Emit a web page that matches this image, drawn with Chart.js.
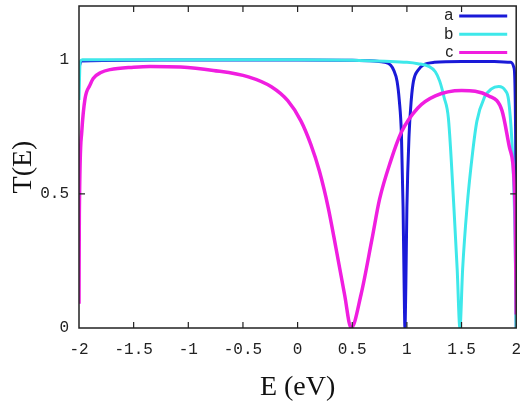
<!DOCTYPE html>
<html>
<head>
<meta charset="utf-8">
<script src="https://cdn.jsdelivr.net/npm/chart.js@4"></script>
<style>
  body { margin: 0; background: #fff; }
</style>
</head>
<body>
<canvas id="chart" width="525" height="406"></canvas>
<script>
// energy grid (eV) and transmission for each curve
const eA = [-2, -1.98, -1.5, -1, 0, 0.5, 0.7, 0.8, 0.85, 0.88, 0.91, 0.93, 0.95, 0.965, 0.975, 0.982, 0.99, 1.0, 1.02, 1.04, 1.06, 1.1, 1.15, 1.25, 1.5, 1.8, 1.95, 1.98, 1.995, 2];
const tA = [0.97, 0.995, 0.998, 0.999, 0.999, 0.998, 0.995, 0.99, 0.98, 0.96, 0.92, 0.85, 0.72, 0.45, 0.15, 0.0, 0.15, 0.45, 0.72, 0.85, 0.92, 0.96, 0.98, 0.99, 0.993, 0.993, 0.99, 0.97, 0.7, 0];

const eB = [-2, -1.99, -1.97, -1, 0, 0.5, 0.8, 1.0, 1.1, 1.2, 1.26, 1.3, 1.34, 1.38, 1.43, 1.46, 1.485, 1.51, 1.55, 1.6, 1.64, 1.71, 1.77, 1.84, 1.9, 1.93, 1.96, 1.98, 1.99, 2];
const tB = [0.85, 0.99, 1.0, 1.0, 1.0, 0.998, 0.994, 0.99, 0.985, 0.975, 0.955, 0.92, 0.86, 0.78, 0.45, 0.22, 0.0, 0.22, 0.45, 0.65, 0.77, 0.86, 0.89, 0.9, 0.885, 0.85, 0.7, 0.5, 0.33, 0];

const eC = [-2, -1.997, -1.975, -1.945, -1.9, -1.87, -1.8, -1.715, -1.5, -1.35, -1.07, -0.77, -0.45, -0.24, -0.09, 0.03, 0.12, 0.2, 0.28, 0.35, 0.43, 0.49, 0.58, 0.68, 0.75, 0.85, 0.95, 1.1, 1.26, 1.5, 1.75, 1.87, 1.94, 1.99, 2];
const tC = [0.09, 0.42, 0.73, 0.854, 0.905, 0.93, 0.952, 0.963, 0.972, 0.975, 0.973, 0.96, 0.936, 0.899, 0.847, 0.772, 0.685, 0.584, 0.449, 0.3, 0.124, 0.0, 0.124, 0.33, 0.48, 0.62, 0.73, 0.82, 0.865, 0.885, 0.865, 0.81, 0.67, 0.45, 0.05];

const labels = ['a', 'b', 'c'];
const colors = ['#1a1ad8', '#3ee8ea', '#f01ee0'];
const xTicks = [-2, -1.5, -1, -0.5, 0, 0.5, 1, 1.5, 2];
const yTicks = [0, 0.5, 1];

const toPoints = (xs, ys) => xs.map((x, i) => ({ x: x, y: ys[i] }));
const series = [toPoints(eA, tA), toPoints(eB, tB), toPoints(eC, tC)];

// box around the plot with small inward ticks on all four sides
const frame = {
  id: 'frame',
  afterDatasetsDraw(chart) {
    const { ctx, chartArea: a, scales } = chart;
    ctx.save();
    ctx.strokeStyle = '#222';
    ctx.lineWidth = 1.5;
    ctx.strokeRect(a.left, a.top, a.right - a.left, a.bottom - a.top);
    ctx.lineWidth = 1.2;
    ctx.beginPath();
    xTicks.slice(1, -1).forEach(v => {
      const x = scales.x.getPixelForValue(v);
      ctx.moveTo(x, a.bottom); ctx.lineTo(x, a.bottom - 6);
      ctx.moveTo(x, a.top); ctx.lineTo(x, a.top + 6);
    });
    yTicks.slice(1, -1).forEach(v => {
      const y = scales.y.getPixelForValue(v);
      ctx.moveTo(a.left, y); ctx.lineTo(a.left + 6, y);
      ctx.moveTo(a.right, y); ctx.lineTo(a.right - 6, y);
    });
    ctx.stroke();

    // legend: label then line sample, top right inside the box
    ctx.font = '16px "Liberation Sans"';
    ctx.textAlign = 'right';
    ctx.textBaseline = 'middle';
    chart.data.datasets.forEach((ds, i) => {
      const y = a.top + 10 + i * 18.3;
      ctx.fillStyle = '#222';
      ctx.fillText(ds.label, a.right - 63, y);
      ctx.strokeStyle = ds.borderColor;
      ctx.lineWidth = 3;
      ctx.beginPath();
      ctx.moveTo(a.right - 57, y);
      ctx.lineTo(a.right - 9, y);
      ctx.stroke();
    });
    ctx.restore();
  }
};

new Chart(document.getElementById('chart'), {
  type: 'line',
  data: {
    datasets: series.map((pts, i) => ({
      label: labels[i],
      data: pts,
      borderColor: colors[i],
      borderWidth: i === 2 ? 3.5 : 3,
      pointRadius: 0,
      cubicInterpolationMode: 'monotone',
      order: 3 - i
    }))
  },
  options: {
    responsive: false,
    animation: false,
    layout: { padding: { top: 6, right: 7, left: 0, bottom: 0 } },
    plugins: { legend: { display: false }, tooltip: { enabled: false } },
    scales: {
      x: {
        type: 'linear',
        min: -2,
        max: 2,
        afterBuildTicks: s => { s.ticks = xTicks.map(v => ({ value: v })); },
        afterFit: s => { s.height = 78; },
        grid: { display: false },
        border: { display: false },
        ticks: { font: { family: '"Liberation Mono"', size: 16 }, color: '#222', padding: 4, maxRotation: 0, callback: v => String(v) },
        title: { display: true, text: 'E (eV)', font: { family: '"Liberation Serif"', size: 28 }, color: '#111', padding: { top: 0, bottom: 2 } }
      },
      y: {
        min: 0,
        max: 1.2,
        afterBuildTicks: s => { s.ticks = yTicks.map(v => ({ value: v })); },
        afterFit: s => { s.width = 79; },
        grid: { display: false },
        border: { display: false },
        ticks: { font: { family: '"Liberation Mono"', size: 16, lineHeight: 0.1 }, color: '#222', padding: 2, callback: v => String(v) },
        title: { display: true, text: 'T(E)', font: { family: '"Liberation Serif"', size: 28 }, color: '#111', padding: { top: 7, bottom: 0 } }
      }
    }
  },
  plugins: [frame]
});
</script>
</body>
</html>
